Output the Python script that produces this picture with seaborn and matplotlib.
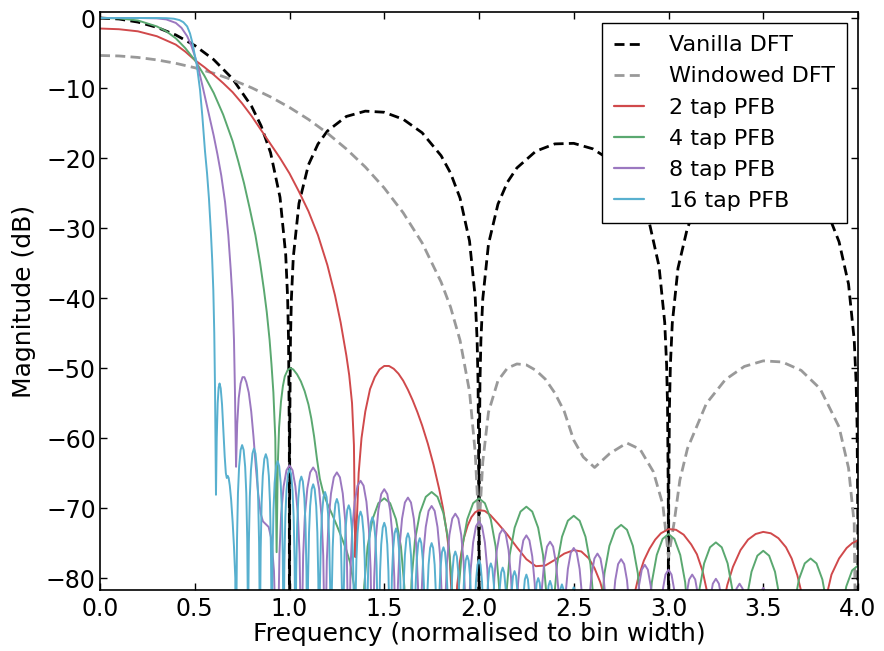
import matplotlib
matplotlib.use("Agg")
import matplotlib.pyplot as plt
import seaborn as sns
import pandas as pd

# ---------------- data (frequency in bins, magnitude in dB) ----------------
series_labels = ["Vanilla DFT", "Windowed DFT", "2 tap PFB", "4 tap PFB", "8 tap PFB", "16 tap PFB"]
x_ticks = [0.0, 0.5, 1.0, 1.5, 2.0, 2.5, 3.0, 3.5, 4.0]
y_ticks = [0, -10, -20, -30, -40, -50, -60, -70, -80]

vanilla_dft = [
    (0, 0), (0.1, -0.14), (0.2, -0.58), (0.3, -1.33), (0.4, -2.42), (0.5, -3.92), (0.6, -5.94),
    (0.7, -8.69), (0.8, -12.62), (0.85, -15.39), (0.9, -19.23), (0.95, -25.61), (0.98, -33.81),
    (0.99, -39.9), (0.995, -45.98), (0.999, -59.99), (1.0, -120), (1.001, -60.0), (1.005, -46.07),
    (1.01, -40.09), (1.02, -34.16), (1.05, -26.48), (1.1, -20.97), (1.15, -18.01), (1.2, -16.14),
    (1.3, -14.06), (1.4, -13.30), (1.5, -13.46), (1.6, -14.46), (1.7, -16.39), (1.8, -19.66),
    (1.85, -22.15), (1.9, -25.72), (1.95, -31.86), (1.98, -39.92), (1.99, -45.98), (1.995, -52.02),
    (1.999, -66.02), (2.0, -120), (2.001, -66.03), (2.005, -52.06), (2.01, -46.07), (2.02, -40.09),
    (2.05, -32.29), (2.1, -26.59), (2.15, -23.45), (2.2, -21.41), (2.3, -19.02), (2.4, -17.98),
    (2.5, -17.90), (2.6, -18.68), (2.7, -20.41), (2.8, -23.50), (2.85, -25.90), (2.9, -29.39),
    (2.95, -35.45), (2.98, -43.47), (2.99, -49.51), (2.995, -55.55), (2.999, -69.54), (3.0, -120),
    (3.001, -69.55), (3.005, -55.58), (3.01, -49.57), (3.02, -43.59), (3.05, -35.74), (3.1, -29.97),
    (3.15, -26.77), (3.2, -24.66), (3.3, -22.15), (3.4, -21.01), (3.5, -20.82), (3.6, -21.50),
    (3.7, -23.15), (3.8, -26.15), (3.85, -28.51), (3.9, -31.96), (3.95, -37.99), (3.98, -45.98),
    (3.99, -52.02), (3.995, -58.05), (3.999, -72.04), (4.0, -120),
]

windowed_dft = [
    (0, -5.35), (0.1, -5.42), (0.2, -5.63), (0.3, -5.98), (0.4, -6.47), (0.5, -7.10), (0.6, -7.89),
    (0.7, -8.84), (0.8, -9.96), (0.9, -11.27), (1.0, -12.77), (1.1, -14.48), (1.2, -16.45),
    (1.3, -18.70), (1.4, -21.28), (1.5, -24.28), (1.6, -27.82), (1.7, -32.12), (1.8, -37.71),
    (1.85, -41.3), (1.9, -46.04), (1.95, -53.35), (1.98, -62.1), (2.0, -73.0), (2.02, -63.4),
    (2.05, -56.3), (2.1, -51.8), (2.15, -50.0), (2.2, -49.41), (2.25, -49.55), (2.3, -50.32),
    (2.35, -51.58), (2.4, -53.55), (2.45, -56.2), (2.5, -60.3), (2.55, -62.7), (2.61, -64.2),
    (2.69, -62.2), (2.78, -60.7), (2.85, -61.6), (2.92, -64.8), (2.97, -69.5), (3.0, -77.0),
    (3.03, -72.0), (3.06, -66.0), (3.1, -61.5), (3.2, -55.06), (3.3, -51.65), (3.4, -49.77),
    (3.5, -48.97), (3.6, -49.13), (3.7, -50.33), (3.8, -52.94), (3.9, -58.41), (3.95, -64.27),
    (3.98, -72.2), (4.0, -120),
]

pfb_2tap = [
    (0, -1.5), (0.1, -1.6), (0.2, -1.9), (0.3, -2.6), (0.4, -3.8), (0.45, -4.8), (0.5, -6.0),
    (0.55, -7.0), (0.6, -8.1), (0.65, -9.3), (0.7, -10.6), (0.75, -12.2), (0.8, -14.0),
    (0.85, -16.0), (0.9, -18.0), (0.95, -20.0), (1.0, -22.2), (1.05, -24.8), (1.1, -27.6),
    (1.15, -31.0), (1.2, -35.3), (1.24, -39.6), (1.27, -43.5), (1.3, -48.2), (1.315, -51.0),
    (1.33, -55.0), (1.34, -61.0), (1.347, -77.0),
    (1.355, -72.0), (1.365, -65.0), (1.38, -60.0), (1.4, -56.2), (1.425, -53.0), (1.45, -51.3),
    (1.475, -50.2), (1.5, -49.7), (1.525, -49.7), (1.55, -50.1), (1.575, -50.8), (1.6, -51.8),
    (1.625, -53.1), (1.65, -54.6), (1.675, -56.3), (1.7, -58.2), (1.73, -60.8), (1.76, -63.8),
    (1.79, -67.3), (1.81, -70.0), (1.83, -73.5), (1.845, -77.0), (1.86, -85.0),
    (1.87, -88.0), (1.885, -81.0), (1.9, -77.5), (1.92, -74.3), (1.94, -72.5), (1.96, -71.3),
    (1.98, -70.6), (2.0, -70.3), (2.03, -70.4), (2.06, -71.0), (2.1, -72.2), (2.15, -73.8),
    (2.2, -75.6), (2.25, -77.3), (2.3, -78.3), (2.35, -78.2), (2.4, -77.4), (2.45, -76.5),
    (2.5, -76.0), (2.54, -76.2), (2.58, -77.2), (2.61, -78.6), (2.64, -80.6), (2.67, -83.5),
    (2.7, -88.0), (2.74, -120), (2.78, -88.0), (2.81, -83.5), (2.84, -80.0), (2.87, -77.5),
    (2.9, -75.8), (2.93, -74.5), (2.96, -73.6), (3.0, -73.0), (3.04, -73.1), (3.08, -73.8),
    (3.12, -75.2), (3.15, -76.6), (3.18, -79.0), (3.2, -81.5), (3.22, -85.0), (3.25, -120),
    (3.28, -85.0), (3.31, -81.0), (3.34, -78.4), (3.38, -76.0), (3.42, -74.5), (3.46, -73.7),
    (3.5, -73.4), (3.54, -73.6), (3.58, -74.3), (3.62, -75.6), (3.65, -77.2), (3.68, -79.6),
    (3.71, -83.0), (3.74, -90.0), (3.77, -120), (3.80, -90.0), (3.83, -83.0), (3.86, -79.5),
    (3.9, -77.2), (3.94, -75.7), (3.97, -75.0), (4.0, -74.6),
]

pfb_4tap = [
    (0, 0), (0.1, -0.05), (0.2, -0.35), (0.3, -1.2), (0.35, -1.9), (0.4, -2.9), (0.45, -4.3),
    (0.5, -6.0), (0.55, -8.2), (0.6, -10.7), (0.65, -13.8), (0.7, -17.6), (0.73, -20.5),
    (0.76, -23.6), (0.79, -27.2), (0.82, -31.0), (0.845, -35.0), (0.865, -38.8), (0.88, -42.0),
    (0.895, -46.0), (0.905, -49.5), (0.915, -53.5), (0.925, -60.0), (0.932, -76.3),
    (0.938, -64.0), (0.945, -58.5), (0.955, -54.8), (0.965, -52.6), (0.975, -51.2), (0.99, -50.3),
    (1.005, -50.0), (1.02, -50.2), (1.04, -50.9), (1.06, -51.9), (1.08, -53.3), (1.1, -55.2),
    (1.115, -57.2), (1.13, -59.8), (1.145, -63.0), (1.16, -65.8), (1.18, -68.0), (1.2, -69.4),
    (1.225, -70.9), (1.25, -72.5), (1.275, -74.2), (1.3, -76.0), (1.32, -77.8), (1.34, -81.0), (1.355, -120),
    (1.381, -90.7), (1.394, -81.2), (1.412, -75.5), (1.438, -71.6), (1.469, -69.3), (1.5, -68.6), (1.531, -69.3), (1.562, -71.6), (1.588, -75.5), (1.606, -81.2), (1.619, -90.7), (1.625, -120),
    (1.631, -89.8), (1.644, -80.3), (1.662, -74.6), (1.688, -70.7), (1.719, -68.4), (1.75, -67.7), (1.781, -68.4), (1.812, -70.7), (1.838, -74.6), (1.856, -80.3), (1.869, -89.8), (1.875, -120),
    (1.881, -90.7), (1.894, -81.2), (1.912, -75.5), (1.938, -71.6), (1.969, -69.3), (2.0, -68.6), (2.031, -69.3), (2.062, -71.6), (2.088, -75.5), (2.106, -81.2), (2.119, -90.7), (2.125, -120),
    (2.131, -91.9), (2.144, -82.4), (2.162, -76.7), (2.188, -72.8), (2.219, -70.5), (2.25, -69.8), (2.281, -70.5), (2.312, -72.8), (2.338, -76.7), (2.356, -82.4), (2.369, -91.9), (2.375, -120),
    (2.381, -93.2), (2.394, -83.7), (2.412, -78.0), (2.438, -74.1), (2.469, -71.8), (2.5, -71.1), (2.531, -71.8), (2.562, -74.1), (2.588, -78.0), (2.606, -83.7), (2.619, -93.2), (2.625, -120),
    (2.631, -94.5), (2.644, -85.0), (2.662, -79.3), (2.688, -75.4), (2.719, -73.1), (2.75, -72.4), (2.781, -73.1), (2.812, -75.4), (2.838, -79.3), (2.856, -85.0), (2.869, -94.5), (2.875, -120),
    (2.881, -95.8), (2.894, -86.3), (2.912, -80.6), (2.938, -76.7), (2.969, -74.4), (3.0, -73.7), (3.031, -74.4), (3.062, -76.7), (3.088, -80.6), (3.106, -86.3), (3.119, -95.8), (3.125, -120),
    (3.131, -97.0), (3.144, -87.5), (3.162, -81.8), (3.188, -77.9), (3.219, -75.6), (3.25, -74.9), (3.281, -75.6), (3.312, -77.9), (3.338, -81.8), (3.356, -87.5), (3.369, -97.0), (3.375, -120),
    (3.381, -98.2), (3.394, -88.7), (3.412, -83.0), (3.438, -79.1), (3.469, -76.8), (3.5, -76.1), (3.531, -76.8), (3.562, -79.1), (3.588, -83.0), (3.606, -88.7), (3.619, -98.2), (3.625, -120),
    (3.631, -99.3), (3.644, -89.8), (3.662, -84.1), (3.688, -80.2), (3.719, -77.9), (3.75, -77.2), (3.781, -77.9), (3.812, -80.2), (3.838, -84.1), (3.856, -89.8), (3.869, -99.3), (3.875, -120),
    (3.881, -100.3), (3.894, -90.8), (3.912, -85.1), (3.938, -81.2), (3.969, -78.9), (4.0, -78.2),
]

pfb_8tap = [
    (0, 0), (0.2, 0), (0.3, -0.05), (0.35, -0.2), (0.4, -0.7), (0.43, -1.4), (0.46, -2.6),
    (0.48, -3.8), (0.5, -5.4), (0.507, -6.1), (0.52, -7.3), (0.54, -9.6), (0.56, -12.0),
    (0.58, -14.4), (0.6, -16.8), (0.62, -19.5), (0.64, -22.5), (0.66, -26.3), (0.677, -31.0),
    (0.69, -36.0), (0.7, -40.5), (0.707, -46.0), (0.712, -53.1), (0.718, -64.1),
    (0.724, -58.0), (0.732, -54.3), (0.742, -52.2), (0.752, -51.3), (0.762, -51.3), (0.772, -52.0),
    (0.785, -53.5), (0.798, -56.2), (0.81, -59.8), (0.822, -64.0), (0.835, -68.0), (0.848, -70.8),
    (0.86, -71.9), (0.875, -72.3), (0.89, -72.7), (0.905, -74.5), (0.918, -79.0), (0.93, -90.0), (0.9375, -120),
    (0.941, -86.0), (0.947, -76.5), (0.956, -70.8), (0.969, -66.9), (0.984, -64.6), (1.0, -63.9), (1.016, -64.6), (1.031, -66.9), (1.044, -70.8), (1.053, -76.5), (1.059, -86.0), (1.0625, -120),
    (1.066, -86.3), (1.072, -76.8), (1.081, -71.1), (1.094, -67.2), (1.109, -64.9), (1.125, -64.2), (1.141, -64.9), (1.156, -67.2), (1.169, -71.1), (1.178, -76.8), (1.184, -86.3), (1.1875, -120),
    (1.191, -87.0), (1.197, -77.5), (1.206, -71.8), (1.219, -67.9), (1.234, -65.6), (1.25, -64.9), (1.266, -65.6), (1.281, -67.9), (1.294, -71.8), (1.303, -77.5), (1.309, -87.0), (1.3125, -120),
    (1.316, -88.2), (1.322, -78.7), (1.331, -73.0), (1.344, -69.1), (1.359, -66.8), (1.375, -66.1), (1.391, -66.8), (1.406, -69.1), (1.419, -73.0), (1.428, -78.7), (1.434, -88.2), (1.4375, -120),
    (1.441, -89.4), (1.447, -79.9), (1.456, -74.2), (1.469, -70.3), (1.484, -68.0), (1.5, -67.3), (1.516, -68.0), (1.531, -70.3), (1.544, -74.2), (1.553, -79.9), (1.559, -89.4), (1.5625, -120),
    (1.566, -90.6), (1.572, -81.1), (1.581, -75.4), (1.594, -71.5), (1.609, -69.2), (1.625, -68.5), (1.641, -69.2), (1.656, -71.5), (1.669, -75.4), (1.678, -81.1), (1.684, -90.6), (1.6875, -120),
    (1.691, -91.8), (1.697, -82.3), (1.706, -76.6), (1.719, -72.7), (1.734, -70.4), (1.75, -69.7), (1.766, -70.4), (1.781, -72.7), (1.794, -76.6), (1.803, -82.3), (1.809, -91.8), (1.8125, -120),
    (1.816, -92.9), (1.822, -83.4), (1.831, -77.7), (1.844, -73.8), (1.859, -71.5), (1.875, -70.8), (1.891, -71.5), (1.906, -73.8), (1.919, -77.7), (1.928, -83.4), (1.934, -92.9), (1.9375, -120),
    (1.941, -94.0), (1.947, -84.5), (1.956, -78.8), (1.969, -74.9), (1.984, -72.6), (2.0, -71.9), (2.016, -72.6), (2.031, -74.9), (2.044, -78.8), (2.053, -84.5), (2.059, -94.0), (2.0625, -120),
    (2.066, -95.1), (2.072, -85.6), (2.081, -79.9), (2.094, -76.0), (2.109, -73.7), (2.125, -73.0), (2.141, -73.7), (2.156, -76.0), (2.169, -79.9), (2.178, -85.6), (2.184, -95.1), (2.1875, -120),
    (2.191, -96.0), (2.197, -86.5), (2.206, -80.8), (2.219, -76.9), (2.234, -74.6), (2.25, -73.9), (2.266, -74.6), (2.281, -76.9), (2.294, -80.8), (2.303, -86.5), (2.309, -96.0), (2.3125, -120),
    (2.316, -96.9), (2.322, -87.4), (2.331, -81.7), (2.344, -77.8), (2.359, -75.5), (2.375, -74.8), (2.391, -75.5), (2.406, -77.8), (2.419, -81.7), (2.428, -87.4), (2.434, -96.9), (2.4375, -120),
    (2.441, -97.8), (2.447, -88.3), (2.456, -82.6), (2.469, -78.7), (2.484, -76.4), (2.5, -75.7), (2.516, -76.4), (2.531, -78.7), (2.544, -82.6), (2.553, -88.3), (2.559, -97.8), (2.5625, -120),
    (2.566, -98.6), (2.572, -89.1), (2.581, -83.4), (2.594, -79.5), (2.609, -77.2), (2.625, -76.5), (2.641, -77.2), (2.656, -79.5), (2.669, -83.4), (2.678, -89.1), (2.684, -98.6), (2.6875, -120),
    (2.691, -99.4), (2.697, -89.9), (2.706, -84.2), (2.719, -80.3), (2.734, -78.0), (2.75, -77.3), (2.766, -78.0), (2.781, -80.3), (2.794, -84.2), (2.803, -89.9), (2.809, -99.4), (2.8125, -120),
    (2.816, -100.2), (2.822, -90.7), (2.831, -85.0), (2.844, -81.1), (2.859, -78.8), (2.875, -78.1), (2.891, -78.8), (2.906, -81.1), (2.919, -85.0), (2.928, -90.7), (2.934, -100.2), (2.9375, -120),
    (2.941, -100.9), (2.947, -91.4), (2.956, -85.7), (2.969, -81.8), (2.984, -79.5), (3.0, -78.8), (3.016, -79.5), (3.031, -81.8), (3.044, -85.7), (3.053, -91.4), (3.059, -100.9), (3.0625, -120),
    (3.066, -101.6), (3.072, -92.1), (3.081, -86.4), (3.094, -82.5), (3.109, -80.2), (3.125, -79.5), (3.141, -80.2), (3.156, -82.5), (3.169, -86.4), (3.178, -92.1), (3.184, -101.6), (3.1875, -120),
    (3.191, -102.2), (3.197, -92.7), (3.206, -87.0), (3.219, -83.1), (3.234, -80.8), (3.25, -80.1), (3.266, -80.8), (3.281, -83.1), (3.294, -87.0), (3.303, -92.7), (3.309, -102.2), (3.3125, -120),
    (3.316, -102.9), (3.322, -93.4), (3.331, -87.7), (3.344, -83.8), (3.359, -81.5), (3.375, -80.8), (3.391, -81.5), (3.406, -83.8), (3.419, -87.7), (3.428, -93.4), (3.434, -102.9), (3.4375, -120),
    (3.441, -103.5), (3.447, -94.0), (3.456, -88.3), (3.469, -84.4), (3.484, -82.1), (3.5, -81.4), (3.516, -82.1), (3.531, -84.4), (3.544, -88.3), (3.553, -94.0), (3.559, -103.5), (3.5625, -120),
]

pfb_16tap = [
    (0, 0), (0.1, 0), (0.2, 0), (0.3, 0), (0.35, -0.02), (0.39, -0.1), (0.42, -0.3), (0.44, -0.6),
    (0.46, -1.2), (0.475, -2.2), (0.49, -3.8), (0.5, -5.3), (0.507, -6.1), (0.515, -7.6),
    (0.528, -10.3), (0.54, -14.0), (0.554, -19.0), (0.565, -22.2), (0.575, -25.8), (0.585, -30.5),
    (0.592, -34.5), (0.598, -38.9), (0.603, -45.0), (0.607, -53.1), (0.612, -68.1),
    (0.616, -60.0), (0.621, -55.0), (0.626, -52.8), (0.631, -52.2), (0.637, -52.9), (0.644, -55.2),
    (0.651, -58.9), (0.658, -62.6), (0.664, -65.0), (0.669, -65.7), (0.674, -65.4), (0.679, -65.7),
    (0.685, -66.8), (0.692, -68.8), (0.70, -72.0), (0.707, -75.5), (0.714, -80.0), (0.71875, -120),
    (0.7205, -82.1), (0.723, -74.5), (0.728, -67.9), (0.734, -64.1), (0.742, -61.7), (0.75, -61.0), (0.758, -61.7), (0.766, -64.1), (0.772, -67.9), (0.777, -74.5), (0.7795, -82.1), (0.78125, -120),
    (0.783, -82.6), (0.7855, -75.0), (0.7905, -68.4), (0.7965, -64.6), (0.8045, -62.2), (0.8125, -61.5), (0.8205, -62.2), (0.8285, -64.6), (0.8345, -68.4), (0.8395, -75.0), (0.842, -82.6), (0.84375, -120),
    (0.8455, -83.4), (0.848, -75.8), (0.853, -69.2), (0.859, -65.4), (0.867, -63.0), (0.875, -62.3), (0.883, -63.0), (0.891, -65.4), (0.897, -69.2), (0.902, -75.8), (0.9045, -83.4), (0.90625, -120),
    (0.908, -84.4), (0.9105, -76.8), (0.9155, -70.2), (0.9215, -66.4), (0.9295, -64.0), (0.9375, -63.3), (0.9455, -64.0), (0.9535, -66.4), (0.9595, -70.2), (0.9645, -76.8), (0.967, -84.4), (0.96875, -120),
    (0.9705, -85.5), (0.973, -77.9), (0.978, -71.3), (0.984, -67.5), (0.992, -65.1), (1.0, -64.4), (1.008, -65.1), (1.016, -67.5), (1.022, -71.3), (1.027, -77.9), (1.0295, -85.5), (1.03125, -120),
    (1.033, -86.6), (1.0355, -79.0), (1.0405, -72.4), (1.0465, -68.6), (1.0545, -66.2), (1.0625, -65.5), (1.0705, -66.2), (1.0785, -68.6), (1.0845, -72.4), (1.0895, -79.0), (1.092, -86.6), (1.09375, -120),
    (1.0955, -87.7), (1.098, -80.1), (1.103, -73.5), (1.109, -69.7), (1.117, -67.3), (1.125, -66.6), (1.133, -67.3), (1.141, -69.7), (1.147, -73.5), (1.152, -80.1), (1.1545, -87.7), (1.15625, -120),
    (1.158, -88.8), (1.1605, -81.2), (1.1655, -74.6), (1.1715, -70.8), (1.1795, -68.4), (1.1875, -67.7), (1.1955, -68.4), (1.2035, -70.8), (1.2095, -74.6), (1.2145, -81.2), (1.217, -88.8), (1.21875, -120),
    (1.2205, -89.8), (1.223, -82.2), (1.228, -75.6), (1.234, -71.8), (1.242, -69.4), (1.25, -68.7), (1.258, -69.4), (1.266, -71.8), (1.272, -75.6), (1.277, -82.2), (1.2795, -89.8), (1.28125, -120),
    (1.283, -90.7), (1.2855, -83.1), (1.2905, -76.5), (1.2965, -72.7), (1.3045, -70.3), (1.3125, -69.6), (1.3205, -70.3), (1.3285, -72.7), (1.3345, -76.5), (1.3395, -83.1), (1.342, -90.7), (1.34375, -120),
    (1.3455, -91.6), (1.348, -84.0), (1.353, -77.4), (1.359, -73.6), (1.367, -71.2), (1.375, -70.5), (1.383, -71.2), (1.391, -73.6), (1.397, -77.4), (1.402, -84.0), (1.4045, -91.6), (1.40625, -120),
    (1.408, -92.4), (1.4105, -84.8), (1.4155, -78.2), (1.4215, -74.4), (1.4295, -72.0), (1.4375, -71.3), (1.4455, -72.0), (1.4535, -74.4), (1.4595, -78.2), (1.4645, -84.8), (1.467, -92.4), (1.46875, -120),
    (1.4705, -93.2), (1.473, -85.6), (1.478, -79.0), (1.484, -75.2), (1.492, -72.8), (1.5, -72.1), (1.508, -72.8), (1.516, -75.2), (1.522, -79.0), (1.527, -85.6), (1.5295, -93.2), (1.53125, -120),
    (1.533, -94.0), (1.5355, -86.4), (1.5405, -79.8), (1.5465, -76.0), (1.5545, -73.6), (1.5625, -72.9), (1.5705, -73.6), (1.5785, -76.0), (1.5845, -79.8), (1.5895, -86.4), (1.592, -94.0), (1.59375, -120),
    (1.5955, -94.7), (1.598, -87.1), (1.603, -80.5), (1.609, -76.7), (1.617, -74.3), (1.625, -73.6), (1.633, -74.3), (1.641, -76.7), (1.647, -80.5), (1.652, -87.1), (1.6545, -94.7), (1.65625, -120),
    (1.658, -95.4), (1.6605, -87.8), (1.6655, -81.2), (1.6715, -77.4), (1.6795, -75.0), (1.6875, -74.3), (1.6955, -75.0), (1.7035, -77.4), (1.7095, -81.2), (1.7145, -87.8), (1.717, -95.4), (1.71875, -120),
    (1.7205, -96.1), (1.723, -88.5), (1.728, -81.9), (1.734, -78.1), (1.742, -75.7), (1.75, -75.0), (1.758, -75.7), (1.766, -78.1), (1.772, -81.9), (1.777, -88.5), (1.7795, -96.1), (1.78125, -120),
    (1.783, -96.7), (1.7855, -89.1), (1.7905, -82.5), (1.7965, -78.7), (1.8045, -76.3), (1.8125, -75.6), (1.8205, -76.3), (1.8285, -78.7), (1.8345, -82.5), (1.8395, -89.1), (1.842, -96.7), (1.84375, -120),
    (1.8455, -97.3), (1.848, -89.7), (1.853, -83.1), (1.859, -79.3), (1.867, -76.9), (1.875, -76.2), (1.883, -76.9), (1.891, -79.3), (1.897, -83.1), (1.902, -89.7), (1.9045, -97.3), (1.90625, -120),
    (1.908, -97.9), (1.9105, -90.3), (1.9155, -83.7), (1.9215, -79.9), (1.9295, -77.5), (1.9375, -76.8), (1.9455, -77.5), (1.9535, -79.9), (1.9595, -83.7), (1.9645, -90.3), (1.967, -97.9), (1.96875, -120),
    (1.9705, -98.5), (1.973, -90.9), (1.978, -84.3), (1.984, -80.5), (1.992, -78.1), (2.0, -77.4), (2.008, -78.1), (2.016, -80.5), (2.022, -84.3), (2.027, -90.9), (2.0295, -98.5), (2.03125, -120),
    (2.033, -99.0), (2.0355, -91.4), (2.0405, -84.8), (2.0465, -81.0), (2.0545, -78.6), (2.0625, -77.9), (2.0705, -78.6), (2.0785, -81.0), (2.0845, -84.8), (2.0895, -91.4), (2.092, -99.0), (2.09375, -120),
    (2.0955, -99.6), (2.098, -92.0), (2.103, -85.4), (2.109, -81.6), (2.117, -79.2), (2.125, -78.5), (2.133, -79.2), (2.141, -81.6), (2.147, -85.4), (2.152, -92.0), (2.1545, -99.6), (2.15625, -120),
    (2.158, -100.1), (2.1605, -92.5), (2.1655, -85.9), (2.1715, -82.1), (2.1795, -79.7), (2.1875, -79.0), (2.1955, -79.7), (2.2035, -82.1), (2.2095, -85.9), (2.2145, -92.5), (2.217, -100.1), (2.21875, -120),
    (2.2205, -100.6), (2.223, -93.0), (2.228, -86.4), (2.234, -82.6), (2.242, -80.2), (2.25, -79.5), (2.258, -80.2), (2.266, -82.6), (2.272, -86.4), (2.277, -93.0), (2.2795, -100.6), (2.28125, -120),
    (2.283, -101.1), (2.2855, -93.5), (2.2905, -86.9), (2.2965, -83.1), (2.3045, -80.7), (2.3125, -80.0), (2.3205, -80.7), (2.3285, -83.1), (2.3345, -86.9), (2.3395, -93.5), (2.342, -101.1), (2.34375, -120),
    (2.3455, -101.5), (2.348, -93.9), (2.353, -87.3), (2.359, -83.5), (2.367, -81.1), (2.375, -80.4), (2.383, -81.1), (2.391, -83.5), (2.397, -87.3), (2.402, -93.9), (2.4045, -101.5), (2.40625, -120),
    (2.408, -102.0), (2.4105, -94.4), (2.4155, -87.8), (2.4215, -84.0), (2.4295, -81.6), (2.4375, -80.9), (2.4455, -81.6), (2.4535, -84.0), (2.4595, -87.8), (2.4645, -94.4), (2.467, -102.0), (2.46875, -120),
    (2.4705, -102.4), (2.473, -94.8), (2.478, -88.2), (2.484, -84.4), (2.492, -82.0), (2.5, -81.3), (2.508, -82.0), (2.516, -84.4), (2.522, -88.2), (2.527, -94.8), (2.5295, -102.4), (2.53125, -120),
]

# ---------------- build long table ----------------
all_series = [vanilla_dft, windowed_dft, pfb_2tap, pfb_4tap, pfb_8tap, pfb_16tap]
frames = []
for name, pts in zip(series_labels, all_series):
    df = pd.DataFrame(pts, columns=["freq", "db"])
    df["series"] = name
    frames.append(df)
data = pd.concat(frames, ignore_index=True)

colors = {
    "Vanilla DFT": "#000000",
    "Windowed DFT": "#999999",
    "2 tap PFB": "#d0494b",
    "4 tap PFB": "#5aa870",
    "8 tap PFB": "#9b78c0",
    "16 tap PFB": "#58b0cf",
}

# ---------------- style ----------------
sns.set_style("ticks")
plt.rcParams["font.family"] = ["DejaVu Sans"]
plt.rcParams["axes.unicode_minus"] = True
for key in ["text.color", "axes.labelcolor", "xtick.color", "ytick.color", "axes.edgecolor"]:
    plt.rcParams[key] = "black"
plt.rcParams["xtick.direction"] = "in"
plt.rcParams["ytick.direction"] = "in"
plt.rcParams["xtick.top"] = True
plt.rcParams["ytick.right"] = True

fig = plt.figure(figsize=(8.84, 6.51), dpi=100)
ax = fig.add_axes([100 / 884, 1 - 590 / 651, 758 / 884, 578 / 651])

for name in series_labels:
    sub = data[data["series"] == name]
    dashed = name.endswith("DFT")
    sns.lineplot(data=sub, x="freq", y="db", ax=ax, sort=False, estimator=None,
                 color=colors[name], lw=2.0 if dashed else 1.4, label=name)
    line = ax.lines[-1]
    if dashed:
        line.set_linestyle((0, (3.6, 1.9)))

ax.set_xlim(0, 4.0)
ax.set_ylim(-81.7, 0.86)
ax.set_xticks(x_ticks)
ax.set_xticklabels([f"{t:.1f}" for t in x_ticks])
ax.set_yticks(y_ticks)
ax.set_xlabel("Frequency (normalised to bin width)", fontsize=18, labelpad=1)
ax.set_ylabel("Magnitude (dB)", fontsize=18, labelpad=7)
ax.tick_params(axis="both", which="major", labelsize=17, length=5, width=1.0,
               top=True, right=True, direction="in", color="black")
ax.tick_params(axis="x", pad=5)
ax.tick_params(axis="y", pad=3)
for sp in ax.spines.values():
    sp.set_linewidth(1.2)
    sp.set_color("black")

leg = ax.legend(loc="upper right", fontsize=16, frameon=True, fancybox=False,
                framealpha=1.0, edgecolor="black", handlelength=1.35, handletextpad=1.1,
                labelspacing=0.5, borderpad=0.55, borderaxespad=0.5)
leg.get_frame().set_linewidth(1.0)
for h in leg.get_lines():
    h.set_linewidth(2.0 if h.get_linestyle() != "-" else 1.6)

fig.savefig("out.png", dpi=100)
